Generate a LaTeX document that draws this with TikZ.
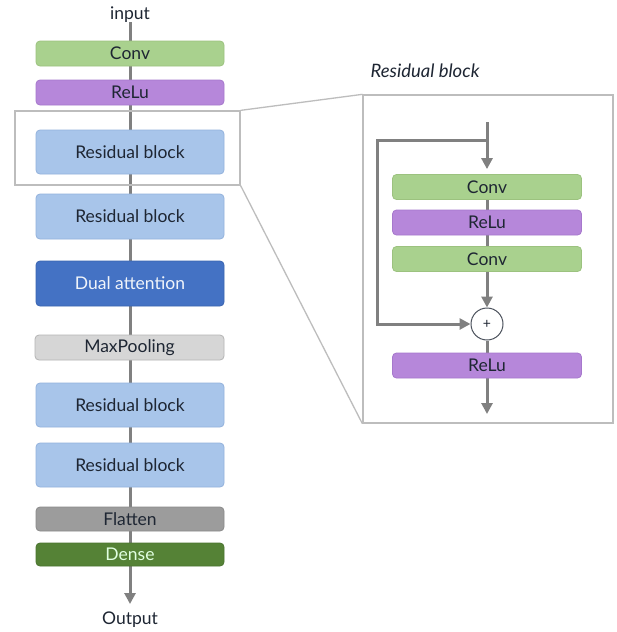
\documentclass[tikz,border=0pt]{standalone}
\usepackage{fontspec}
\setmainfont{Lato}
\usetikzlibrary{arrows.meta,backgrounds}
\definecolor{convg}{HTML}{A9D18E}
\definecolor{convgb}{HTML}{9CC27F}
\definecolor{relup}{HTML}{B687DA}
\definecolor{relupb}{HTML}{A678CC}
\definecolor{resb}{HTML}{A8C5EA}
\definecolor{resbb}{HTML}{93B2DC}
\definecolor{duala}{HTML}{4472C4}
\definecolor{dualab}{HTML}{3A64B0}
\definecolor{maxp}{HTML}{D6D6D6}
\definecolor{maxpb}{HTML}{B4B4B4}
\definecolor{flat}{HTML}{9C9C9C}
\definecolor{flatb}{HTML}{8A8A8A}
\definecolor{dense}{HTML}{558236}
\definecolor{denseb}{HTML}{4A7430}
\definecolor{txt}{HTML}{1E2633}
\definecolor{linec}{HTML}{808080}
\definecolor{frame}{HTML}{BDBDBD}
\begin{document}
\begin{tikzpicture}[x=1pt,y=-1pt,
  layer/.style={rounded corners=4pt, line width=0.8pt, text=txt, font=\fontsize{17.5}{20}\selectfont, inner sep=0pt, minimum width=188pt},
  convbox/.style={layer, fill=convg, draw=convgb, minimum height=25pt},
  relubox/.style={layer, fill=relup, draw=relupb, minimum height=25pt},
  resbox/.style={layer, fill=resb, draw=resbb, minimum height=44pt},
  dualbox/.style={layer, fill=duala, draw=dualab, minimum height=45pt, text=white!92!duala},
  maxbox/.style={layer, fill=maxp, draw=maxpb, minimum height=25pt},
  flatbox/.style={layer, fill=flat, draw=flatb, minimum height=24pt},
  densebox/.style={layer, fill=dense, draw=denseb, minimum height=23pt, text=green!12!white},
  flow/.style={draw=linec, line width=3pt},
  flowarr/.style={flow, -{Triangle[length=11pt,width=11pt]}},
  thin/.style={draw=frame, line width=1.3pt},
  lbl/.style={text=txt, font=\fontsize{17.5}{20}\selectfont, inner sep=0pt}
]
\useasboundingbox (0,0) rectangle (617,632);

% left column
\node[lbl, anchor=base] (input) at (130,19) {input};
\coordinate (intop) at (130,22);
\node[convbox] (conv) at (130,53.5) {Conv};
\node[relubox] (relu) at (130,92.5) {ReLu};
\node[resbox] (rb1) at (130,152) {Residual block};
\node[resbox, minimum height=45pt] (rb2) at (130,216.5) {Residual block};
\node[dualbox] (dual) at (130,283.5) {Dual attention};
\node[maxbox, minimum width=189pt] (maxp) at (129.5,347.5) {MaxPooling};
\node[resbox] (rb3) at (130,405) {Residual block};
\node[resbox] (rb4) at (130,465) {Residual block};
\node[flatbox] (flat) at (130,519) {Flatten};
\node[densebox] (dense) at (130,554.5) {Dense};
\coordinate (outtip) at (130,604);
\node[lbl, anchor=base] (output) at (130,624) {Output};

% highlight and panel
\node[thin, draw, minimum width=225pt, minimum height=74pt, inner sep=0pt] (hl) at (127.5,148) {};
\node[thin, draw, minimum width=250pt, minimum height=328pt, inner sep=0pt] (panel) at (488,259) {};
\node[lbl, font=\fontsize{18.5}{20}\selectfont\itshape, anchor=base] (title) at (425,77) {Residual block};
\draw[thin] (hl.north east) -- (panel.north west);
\draw[thin] (hl.south east) -- (panel.south west);

% right column
\coordinate (rtop) at (487,122);
\coordinate (sk) at (487,140);
\coordinate (skl) at (377,140);
\coordinate (skb) at (377,324);
\node[convbox, minimum width=189pt] (convA) at (487,187) {Conv};
\node[relubox, minimum width=189pt] (reluA) at (487,222.5) {ReLu};
\node[convbox, minimum width=189pt] (convB) at (487,259) {Conv};
\node[circle, draw=txt!80, line width=1pt, fill=white, minimum size=32pt, inner sep=0pt, font=\fontsize{14}{15}\selectfont, text=txt] (plus) at (487,324) {+};
\node[relubox, minimum width=189pt] (reluB) at (487,365.5) {ReLu};
\coordinate (rbot) at (487,414);

\begin{scope}[on background layer]
  \fill[white] (0,0) rectangle (617,632);
  \draw[flowarr] (intop) -- (outtip);
  \draw[flowarr] (rtop) -- ([yshift=5pt]convA.north);
  \draw[flow] (convA) -- (reluA);
  \draw[flow] (reluA) -- (convB);
  \draw[flowarr] (convB.south) -- (plus.north);
  \draw[flowarr] (sk) -- (skl) -- (skb) -- (plus.west);
  \draw[flow] (plus.south) -- (reluB.north);
  \draw[flowarr] (reluB.south) -- (rbot);
\end{scope}
\end{tikzpicture}
\end{document}
